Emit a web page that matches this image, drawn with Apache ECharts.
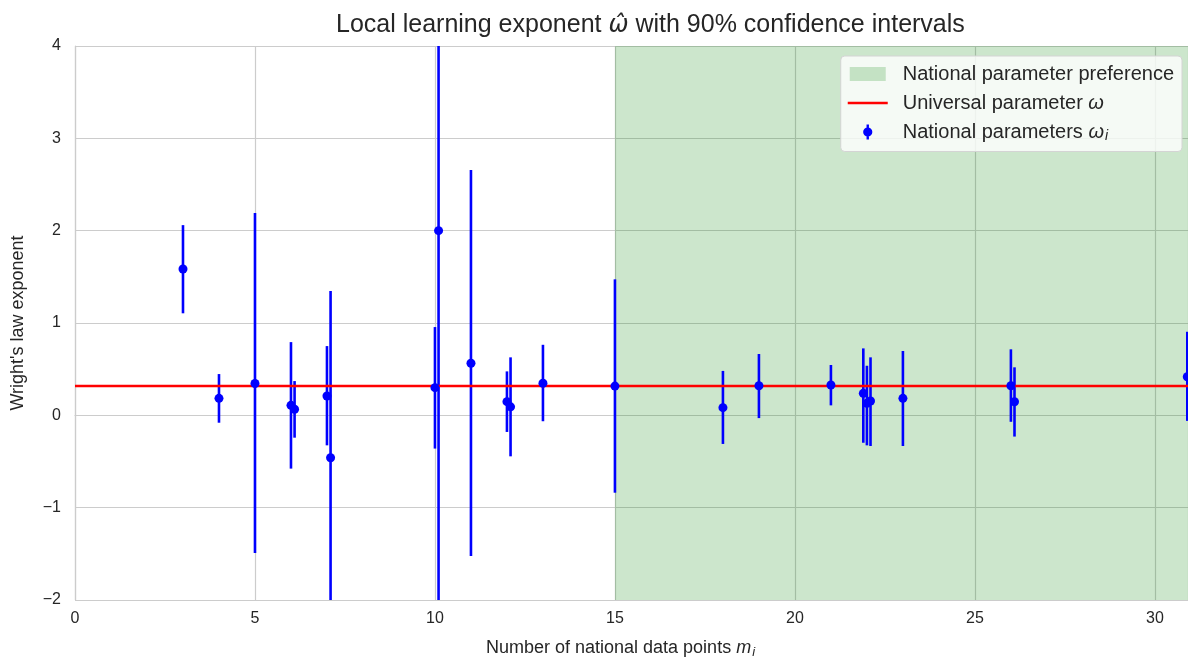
<!DOCTYPE html>
<html>
<head>
<meta charset="utf-8">
<style>
  html, body { margin: 0; padding: 0; background: #ffffff; overflow: hidden; }
  #chart { width: 1188px; height: 657px; }
</style>
<script src="https://cdn.jsdelivr.net/npm/echarts@6/dist/echarts.min.js"></script>
</head>
<body>
<div id="chart"></div>
<script>
// Number of national data points per country (small offsets separate coincident counts)
const m = [3, 4, 5, 6, 6.1, 7, 7.1, 10, 10.1, 11, 12, 12.1, 13, 15, 18, 19, 21, 21.9, 22, 22.1, 23, 26, 26.1, 30.9];
// Local exponent estimates
const omega = [1.585, 0.184, 0.345, 0.108, 0.066, 0.21, -0.46, 0.30, 2.0, 0.564, 0.148, 0.092, 0.348, 0.317, 0.083, 0.32, 0.328, 0.238, 0.13, 0.155, 0.184, 0.32, 0.147, 0.418];
// 90% confidence bounds
const lower = [1.105, -0.08, -1.49, -0.577, -0.242, -0.325, -2.27, -0.36, -2.6, -1.524, -0.18, -0.444, -0.064, -0.838, -0.31, -0.03, 0.108, -0.297, -0.325, -0.332, -0.332, -0.07, -0.23, -0.06];
const upper = [2.06, 0.447, 2.19, 0.793, 0.371, 0.75, 1.346, 0.956, 6.6, 2.656, 0.476, 0.628, 0.764, 1.473, 0.481, 0.664, 0.545, 0.725, 0.537, 0.628, 0.697, 0.715, 0.52, 0.905];
// Pooled (universal) exponent
const universalOmega = 0.317;
// Threshold above which the national parameter is preferred
const preferenceFrom = 15;
const xMax = 30.92;
const xTicks = [0, 5, 10, 15, 20, 25, 30];
const yTicks = [-2, -1, 0, 1, 2, 3, 4];

const FONT = '"Liberation Sans", Arial, "DejaVu Sans", sans-serif';
const TEXT = '#262626';
const GRID = '#cccccc';

const names = {
  pref: 'National parameter preference',
  uni: 'Universal parameter ω',
  nat: 'National parameters ωi'
};

// legend glyphs drawn in a fixed 40x16 box (the corner specks pin the box size)
const BOX = 'path://M0,0 L0.01,0 L0,0.01 Z M40,16 L39.99,16 L40,15.99 Z ';
const errIcon = BOX +
  'M18.8,0.5 L21.2,0.5 L21.2,15.5 L18.8,15.5 Z ' +
  'M20,3.4 A4.6,4.6 0 1 1 20,12.6 A4.6,4.6 0 1 1 20,3.4 Z';
const lineIcon = BOX + 'M0,6.7 L40,6.7 L40,9.3 L0,9.3 Z';
const patchIcon = BOX + 'M2,1 L38,1 L38,15 L2,15 Z';

const chart = echarts.init(document.getElementById('chart'), null, { renderer: 'canvas' });

const legendRich = {
  t: { fontFamily: FONT, fontSize: 20, color: TEXT },
  it: { fontFamily: FONT, fontSize: 20, color: TEXT, fontStyle: 'italic' },
  sub: { fontFamily: FONT, fontSize: 14, color: TEXT, fontStyle: 'italic', padding: [9, 0, 0, 1] }
};

const option = {
  backgroundColor: '#ffffff',
  animation: false,
  textStyle: { fontFamily: FONT, color: TEXT },
  title: {
    text: '{t|Local learning exponent }{it|ω̂}{t| with 90% confidence intervals}',
    left: 331,
    top: 8,
    textStyle: {
      fontFamily: FONT, fontSize: 25, fontWeight: 'normal', color: TEXT,
      rich: {
        t: { fontFamily: FONT, fontSize: 25, color: TEXT },
        it: { fontFamily: '"DejaVu Sans", sans-serif', fontSize: 24, fontStyle: 'italic', color: TEXT }
      }
    }
  },
  grid: { left: 75, right: 0, top: 46, bottom: 57, containLabel: false, outerBoundsMode: 'none' },
  legend: {
    orient: 'vertical',
    right: 6,
    top: 56,
    padding: [8, 8, 8, 7],
    itemGap: 9,
    itemWidth: 40,
    itemHeight: 16,
    backgroundColor: 'rgba(255,255,255,0.8)',
    borderColor: '#d4d4d4',
    borderWidth: 1,
    borderRadius: 4,
    textStyle: {
      fontFamily: FONT, fontSize: 20, color: TEXT, padding: [0, 0, 0, 10],
      rich: legendRich
    },
    formatter: function (name) {
      if (name === names.uni) return '{t|Universal parameter }{it|ω}';
      if (name === names.nat) return '{t|National parameters }{it|ω}{sub|i}';
      return '{t|' + name + '}';
    },
    data: [
      { name: names.pref, icon: patchIcon, itemStyle: { color: 'rgba(0,128,0,0.2)' } },
      { name: names.uni, icon: lineIcon, itemStyle: { color: '#ff0000' } },
      { name: names.nat, icon: errIcon, itemStyle: { color: '#0000ff' } }
    ]
  },
  xAxis: {
    type: 'value',
    min: 0,
    max: xMax,
    interval: 5,
    name: '{t|Number of national data points }{it|m}{sub|i}',
    nameLocation: 'middle',
    nameGap: 37,
    nameTextStyle: {
      fontFamily: FONT, fontSize: 18, color: TEXT,
      padding: [0, 22, 0, 0],
      rich: {
        t: { fontFamily: FONT, fontSize: 18, color: TEXT },
        it: { fontFamily: FONT, fontSize: 18, color: TEXT, fontStyle: 'italic' },
        sub: { fontFamily: FONT, fontSize: 13, color: TEXT, fontStyle: 'italic', padding: [9, 0, 0, 1] }
      }
    },
    axisLine: { show: true, lineStyle: { color: GRID, width: 1.2 } },
    axisTick: { show: false },
    axisLabel: {
      fontFamily: FONT, fontSize: 16, color: TEXT, margin: 11,
      formatter: v => xTicks.includes(v) ? String(v) : ''
    },
    splitLine: { show: true, lineStyle: { color: GRID, width: 1.2 } }
  },
  yAxis: {
    type: 'value',
    min: -2,
    max: 4,
    interval: 1,
    name: "Wright's law exponent",
    nameLocation: 'middle',
    nameGap: 48,
    nameTextStyle: { fontFamily: FONT, fontSize: 18, color: TEXT },
    axisLine: { show: true, lineStyle: { color: GRID, width: 1.2 } },
    axisTick: { show: false },
    axisLabel: {
      fontFamily: FONT, fontSize: 16, color: TEXT, margin: 14,
      formatter: v => yTicks.includes(v) ? String(v).replace('-', '\u2212') : ''
    },
    splitLine: { show: true, lineStyle: { color: GRID, width: 1.2 } }
  },
  series: [
    {
      name: names.pref,
      type: 'line',
      data: [],
      z: 1,
      itemStyle: { color: 'rgba(0,128,0,0.2)' },
      markArea: {
        silent: true,
        itemStyle: { color: 'rgba(0,128,0,0.2)' },
        data: [[{ xAxis: preferenceFrom }, { xAxis: xMax }]]
      }
    },
    {
      name: names.nat + ' bars',
      type: 'custom',
      z: 2,
      silent: true,
      data: m.map((x, i) => [x, lower[i], upper[i]]),
      encode: { x: 0, y: [1, 2] },
      renderItem: function (params, api) {
        const x = api.value(0);
        const p1 = api.coord([x, api.value(1)]);
        const p2 = api.coord([x, api.value(2)]);
        const cs = params.coordSys;
        const clampY = y => Math.max(cs.y, Math.min(cs.y + cs.height, y));
        return {
          type: 'line',
          shape: { x1: p1[0], y1: clampY(p1[1]), x2: p2[0], y2: clampY(p2[1]) },
          style: { stroke: '#0000ff', lineWidth: 2.6 }
        };
      }
    },
    {
      name: names.uni,
      type: 'line',
      z: 3,
      symbol: 'none',
      silent: true,
      data: [[0, universalOmega], [xMax, universalOmega]],
      lineStyle: { color: '#ff0000', width: 2.6 },
      itemStyle: { color: '#ff0000' }
    },
    {
      name: names.nat,
      type: 'scatter',
      z: 4,
      symbol: 'circle',
      symbolSize: 9,
      data: m.map((x, i) => [x, omega[i]]),
      itemStyle: { color: '#0000ff', opacity: 1 }
    }
  ]
};

chart.setOption(option);
</script>
</body>
</html>
